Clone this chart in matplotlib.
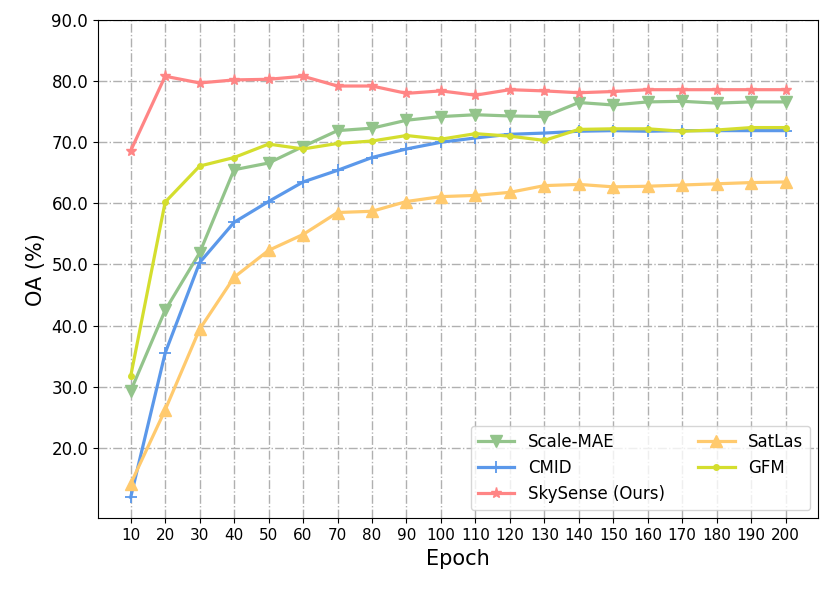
import numpy as np
import matplotlib.pyplot as plt

# Values
epochs = [10, 20, 30, 40, 50, 60, 70, 80, 90, 100, 110, 120, 130, 140, 150, 160, 170, 180, 190, 200]
scale_mae = [29.3, 42.5, 51.9, 65.5, 66.6, 69.3, 71.9, 72.3, 73.6, 74.2, 74.5, 74.3, 74.2, 76.5, 76.1, 76.6, 76.7, 76.4, 76.6, 76.6]
cmid = [11.9, 35.5, 50.3, 56.9, 60.3, 63.5, 65.4, 67.5, 68.9, 70.0, 70.7, 71.3, 71.5, 71.8, 71.9, 71.8, 71.9, 71.9, 71.9, 71.9]
skysense = [68.6, 80.8, 79.7, 80.2, 80.3, 80.8, 79.2, 79.2, 78.0, 78.4, 77.7, 78.6, 78.4, 78.1, 78.3, 78.6, 78.6, 78.6, 78.6, 78.6]
satlas = [14.1, 26.2, 39.4, 47.9, 52.3, 54.9, 58.5, 58.7, 60.3, 61.1, 61.3, 61.8, 62.9, 63.1, 62.7, 62.8, 63.0, 63.2, 63.4, 63.5]
gfm = [31.7, 60.2, 66.1, 67.5, 69.7, 68.9, 69.8, 70.2, 71.1, 70.5, 71.4, 71.0, 70.3, 72.1, 72.2, 72.2, 71.8, 72.0, 72.4, 72.4]

x = np.arange(len(epochs))

fig = plt.figure(figsize=(8.3, 5.89), dpi=100)
ax = fig.add_axes([0.118, 0.12, 0.868, 0.846])

lw = 2.3
ax.plot(x, scale_mae, color='#93C48B', marker='v', markersize=8, linewidth=lw, label='Scale-MAE')
ax.plot(x, cmid, color='#5B98EA', marker='+', markersize=9, markeredgewidth=1.3, linewidth=lw, label='CMID')
ax.plot(x, skysense, color='#FF8585', marker='*', markersize=8, linewidth=lw, label='SkySense (Ours)')
ax.plot(x, satlas, color='#FFCA6E', marker='^', markersize=8, linewidth=lw, label='SatLas')
ax.plot(x, gfm, color='#D4DE2E', marker='.', markersize=8, linewidth=lw, label='GFM')

ax.set_xticks(x)
ax.set_xticklabels([str(e) for e in epochs], fontsize=11)
ax.set_ylim(top=90)
ax.set_yticks([20, 30, 40, 50, 60, 70, 80, 90])
ax.set_yticklabels(['%.1f' % v for v in [20, 30, 40, 50, 60, 70, 80, 90]], fontsize=12)

ax.grid(True, linestyle='-.', color='#b0b0b0', linewidth=1)
ax.set_axisbelow(True)

ax.set_xlabel('Epoch', fontsize=15)
ax.set_ylabel('OA (%)', fontsize=15)

ax.legend(loc='lower right', ncol=2, fontsize=12, handlelength=2.2)

plt.savefig('out.png', dpi=100)
